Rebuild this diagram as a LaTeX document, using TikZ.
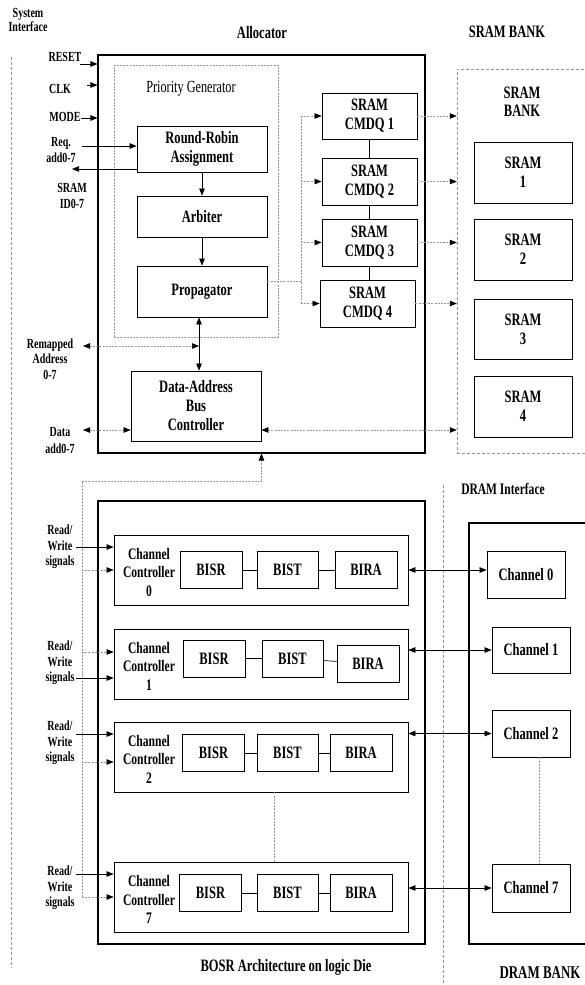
\documentclass[tikz,border=0pt]{standalone}
\usepackage{fontspec}
\setmainfont{Liberation Serif}[FakeStretch=0.72]
\usetikzlibrary{arrows.meta}
\definecolor{dotgray}{RGB}{150,150,150}
\tikzset{
  >={Triangle[length=7pt,width=5.5pt,color=black]},
  frame/.style={draw, line width=1.1pt, inner sep=0pt},
  blk/.style={draw, line width=0.8pt, inner sep=0pt, align=center,
    font=\fontsize{17.4}{19}\selectfont\bfseries},
  sz/.style 2 args={minimum width=#1, minimum height=#2},
  lbl/.style={align=center, inner sep=0pt,
    font=\fontsize{13.9}{15.5}\selectfont\bfseries},
  ttl/.style={align=center, inner sep=0pt,
    font=\fontsize{17.4}{18}\selectfont\bfseries},
  sig/.style={->, line width=0.6pt},
  dots/.style={draw=dotgray, line width=0.5pt, dash pattern=on 2pt off 1.2pt},
  divider/.style={draw=dotgray, line width=0.5pt, dash pattern=on 3pt off 2pt}
}

\begin{document}
\begin{tikzpicture}[x=1pt,y=-1pt]
  \useasboundingbox (0,0) rectangle (584,985);

  % Titles
  \node[lbl,font=\fontsize{13.9}{14}\selectfont\bfseries] (sysif) at (28,20) {System\\Interface};
  \node[ttl] (alloct) at (262,33) {Allocator};
  \node[ttl] (sbankt) at (507,32) {SRAM BANK};
  \node[ttl,font=\fontsize{16}{16}\selectfont\bfseries] (dift) at (503,489) {DRAM Interface};
  \node[ttl] (bosrt) at (286,967) {BOSR Architecture on logic Die};
  \node[ttl,font=\fontsize{18}{18}\selectfont\bfseries] (dbankt) at (540,973) {DRAM BANK};

  % Interface dividers
  \coordinate (sitop) at (11,57);
  \coordinate (sibot) at (11,968);
  \coordinate (ditop) at (443,485);
  \coordinate (dibot) at (443,985);
  \draw[divider] (sitop) -- (sibot);
  \draw[divider] (ditop) -- (dibot);

  % Allocator
  \node[frame,sz={327}{398}] (alloc) at (261.5,254) {};
  \node[dots,sz={164}{272},inner sep=0pt] (pg) at (196,201) {};
  \node[font=\fontsize{17}{17}\selectfont] (pgt) at (191,89) {Priority Generator};
  \node[blk,sz={130}{46}] (rr) at (202,149) {Round-Robin\\Assignment};
  \node[blk,sz={130}{41}] (arb) at (202,216.5) {Arbiter};
  \node[blk,sz={130}{51}] (prop) at (202,291.5) {Propagator};
  \node[blk,sz={130}{70}] (dab) at (196,406) {Data-Address\\Bus\\Controller};
  \node[blk,sz={95}{46}] (cmdq1) at (369.5,116) {SRAM\\CMDQ 1};
  \node[blk,sz={95}{47}] (cmdq2) at (369.5,181.5) {SRAM\\CMDQ 2};
  \node[blk,sz={95}{47}] (cmdq3) at (369.5,242.5) {SRAM\\CMDQ 3};
  \node[blk,sz={95}{47}] (cmdq4) at (367.5,303.5) {SRAM\\CMDQ 4};

  % SRAM bank
  \node[divider,sz={154}{384},inner sep=0pt] (sbank) at (534,261) {};
  \node[ttl] (sbankin) at (522,102) {SRAM\\BANK};
  \foreach \i/\y/\h in {1/172.5/61, 2/249.5/61, 3/329/60, 4/406.5/61}
    \node[blk,sz={98}{\h}] (sram\i) at (523,\y) {SRAM\\\i};

  % System interface signals
  \node[lbl] (reset) at (65,57) {RESET};
  \node[lbl] (clk) at (60,89) {CLK};
  \node[lbl] (mode) at (65,117) {MODE};
  \node[lbl] (req) at (61,150) {Req.\\add0-7};
  \node[lbl] (srid) at (72,196) {SRAM\\ID0-7};
  \node[lbl] (rmap) at (50,359) {Remapped\\Address\\0-7};
  \node[lbl,font=\fontsize{13.9}{17}\selectfont\bfseries] (dat) at (60,440.5) {Data\\add0-7};
  \coordinate (resetin) at (80,64);
  \coordinate (clkin) at (87,85);
  \coordinate (modein) at (81,118);
  \coordinate (reqin) at (82,146);
  \coordinate (sridout) at (72,169);
  \coordinate (rmapin) at (83,346);
  \coordinate (rmapend) at (199,346);
  \coordinate (datin) at (83,430);
  \draw[sig] (resetin) -- (resetin -| alloc.west);
  \draw[sig] (clkin) -- (clkin -| alloc.west);
  \draw[sig] (modein) -- (modein -| alloc.west);
  \draw[sig] (reqin) -- (reqin -| rr.west);
  \draw[sig] (sridout -| rr.west) -- (sridout);
  \draw[dots,<->] (rmapin) -- (rmapend);
  \draw[dots,<->] (datin) -- (datin -| dab.west);

  % Allocator internal flow
  \draw[sig] (rr) -- (arb);
  \draw[sig] (arb) -- (prop);
  \draw[<->,line width=0.6pt] (prop.south -| rmapend) -- (dab.north -| rmapend);
  \draw[dots,<->] (datin -| dab.east) -- (datin -| sbank.west);

  % Command queue bus
  \coordinate (bus) at (301,281);
  \draw[dots] (bus -| prop.east) -- (bus);
  \draw[dots] (bus |- cmdq1.west) -- (bus |- cmdq4.west);
  \foreach \i in {1,...,4} {
    \draw[dots,->] (bus |- cmdq\i.west) -- (cmdq\i.west);
    \draw[dots,->] (cmdq\i.east) -- (cmdq\i.east -| sbank.west);
  }
  \foreach \i/\j in {1/2, 2/3, 3/4}
    \draw[line width=0.8pt] (cmdq\i.south) -- (cmdq\i.south |- cmdq\j.north);

  % BOSR architecture
  \node[frame,sz={327}{443}] (bosr) at (261.5,722.5) {};
  \foreach \n/\y in {0/570, 1/664, 2/757, 7/897.5} {
    \node[blk,sz={294}{70}] (cc\n) at (261,\y) {};
    \node[align=center,inner sep=0pt,font=\fontsize{16.1}{18.5}\selectfont\bfseries]
      (cct\n) at (149,\y+2) {Channel\\Controller\\\n};
  }
  \foreach \n/\y/\xs/\xt/\xa/\ya in {0/570/211/287.5/366/570,
      1/658.5/214/292.5/368/663.5, 2/753/213.5/287.5/361/753,
      7/893/210.5/287.5/361/893} {
    \node[blk,sz={62}{37}] (bisr\n) at (\xs,\y) {BISR};
    \node[blk,sz={61}{37}] (bist\n) at (\xt,\y) {BIST};
    \node[blk,sz={62}{37}] (bira\n) at (\xa,\ya) {BIRA};
    \draw[line width=0.7pt] (bisr\n) -- (bist\n);
    \draw[line width=0.7pt] (bist\n) -- (bira\n);
  }
  \draw[dots] ([xshift=13pt]cc2.south) -- ([xshift=13pt]cc7.north);

  % Read/Write signals
  \coordinate (rwbus) at (82,481);
  \coordinate (rwbot) at (82,897);
  \draw[dots,->] (rwbot) -- (rwbus) -| (alloc.south);
  \foreach \n/\ly/\sy/\dy in {0/547/547/570, 1/663/678/652,
      2/743/734/762, 7/888/874/897} {
    \node[lbl] (rw\n) at (60,\ly) {Read/\\Write\\signals};
    \coordinate (rwin\n) at (76,\sy);
    \coordinate (rwd\n) at (82,\dy);
    \draw[sig] (rwin\n) -- (rwin\n -| cc\n.west);
    \draw[dots,->] (rwd\n) -- (rwd\n -| cc\n.west);
  }

  % DRAM bank
  \node[frame,sz={142}{421}] (dbank) at (540,733.5) {};
  \node[blk,sz={78}{47}] (ch0) at (526,574.5) {Channel 0};
  \node[blk,sz={78}{46}] (ch1) at (531,650) {Channel 1};
  \node[blk,sz={78}{47}] (ch2) at (531,733.5) {Channel 2};
  \node[blk,sz={78}{48}] (ch7) at (531,888) {Channel 7};
  \draw[dots] ([xshift=8pt]ch2.south) -- ([xshift=8pt]ch7.north);
  \draw[<->,line width=0.6pt] (cc0.east) -- (cc0.east -| ch0.west);
  \foreach \n in {1,2,7}
    \draw[<->,line width=0.6pt] (ch\n.west -| cc\n.east) -- (ch\n.west);
\end{tikzpicture}
\end{document}
